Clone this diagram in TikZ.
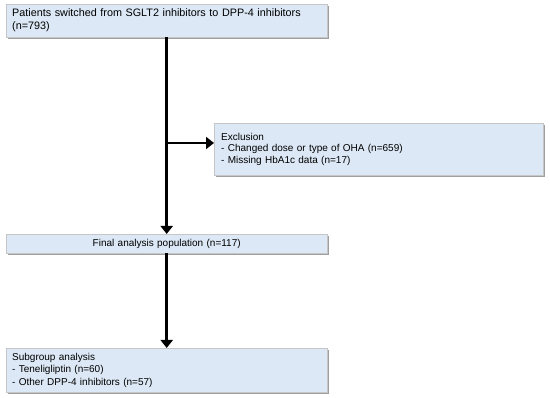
\documentclass[tikz,border=0pt]{standalone}
\usepackage{fontspec}
\setmainfont{Liberation Sans}
\usetikzlibrary{arrows.meta,positioning,shadows}
\definecolor{boxfill}{HTML}{DCE8F5}

\begin{document}
\begin{tikzpicture}[x=1pt, y=-1pt,
    flowbox/.style={draw=gray!45, fill=boxfill, line width=0.4pt, inner xsep=6pt, inner ysep=2pt,
        anchor=north west, align=left, drop shadow={shadow xshift=1.5pt, shadow yshift=-1.5pt, fill=gray!75, opacity=1}},
    flowarrow/.style={line width=2.6pt, -{Triangle[width=12pt, length=8pt]}}]
        \useasboundingbox (0,0) rectangle (550,398);

        % Boxes
        \node[flowbox, font=\fontsize{10.8}{13}\selectfont, minimum width=321pt, minimum height=33pt, text width=309pt] (start) at (6,4)
            {Patients switched from SGLT2 inhibitors to DPP-4 inhibitors\\(n=793)};
        \node[flowbox, font=\fontsize{10}{11.5}\selectfont, minimum width=329pt, minimum height=52pt, text width=315pt, inner xsep=7pt] (excl) at (214,123)
            {Exclusion\\- Changed dose or type of OHA (n=659)\\- Missing HbA1c data (n=17)};
        \node[flowbox, font=\fontsize{10}{11}\selectfont, minimum width=321pt, minimum height=19pt, text width=309pt, align=center] (final) at (6,234)
            {Final analysis population (n=117)};
        \node[flowbox, font=\fontsize{10}{12.5}\selectfont, minimum width=321pt, minimum height=44pt, text width=309pt] (sub) at (6,348)
            {Subgroup analysis\\- Teneligliptin (n=60)\\- Other DPP-4 inhibitors (n=57)};

        % Links
        \coordinate (branch) at (start.south |- 0,143);
        \draw[flowarrow] (start.south) -- (final.north);
        \draw[flowarrow] (branch) -- (excl.west |- branch);
        \draw[flowarrow] (final.south) -- (sub.north);
    \end{tikzpicture}
\end{document}
